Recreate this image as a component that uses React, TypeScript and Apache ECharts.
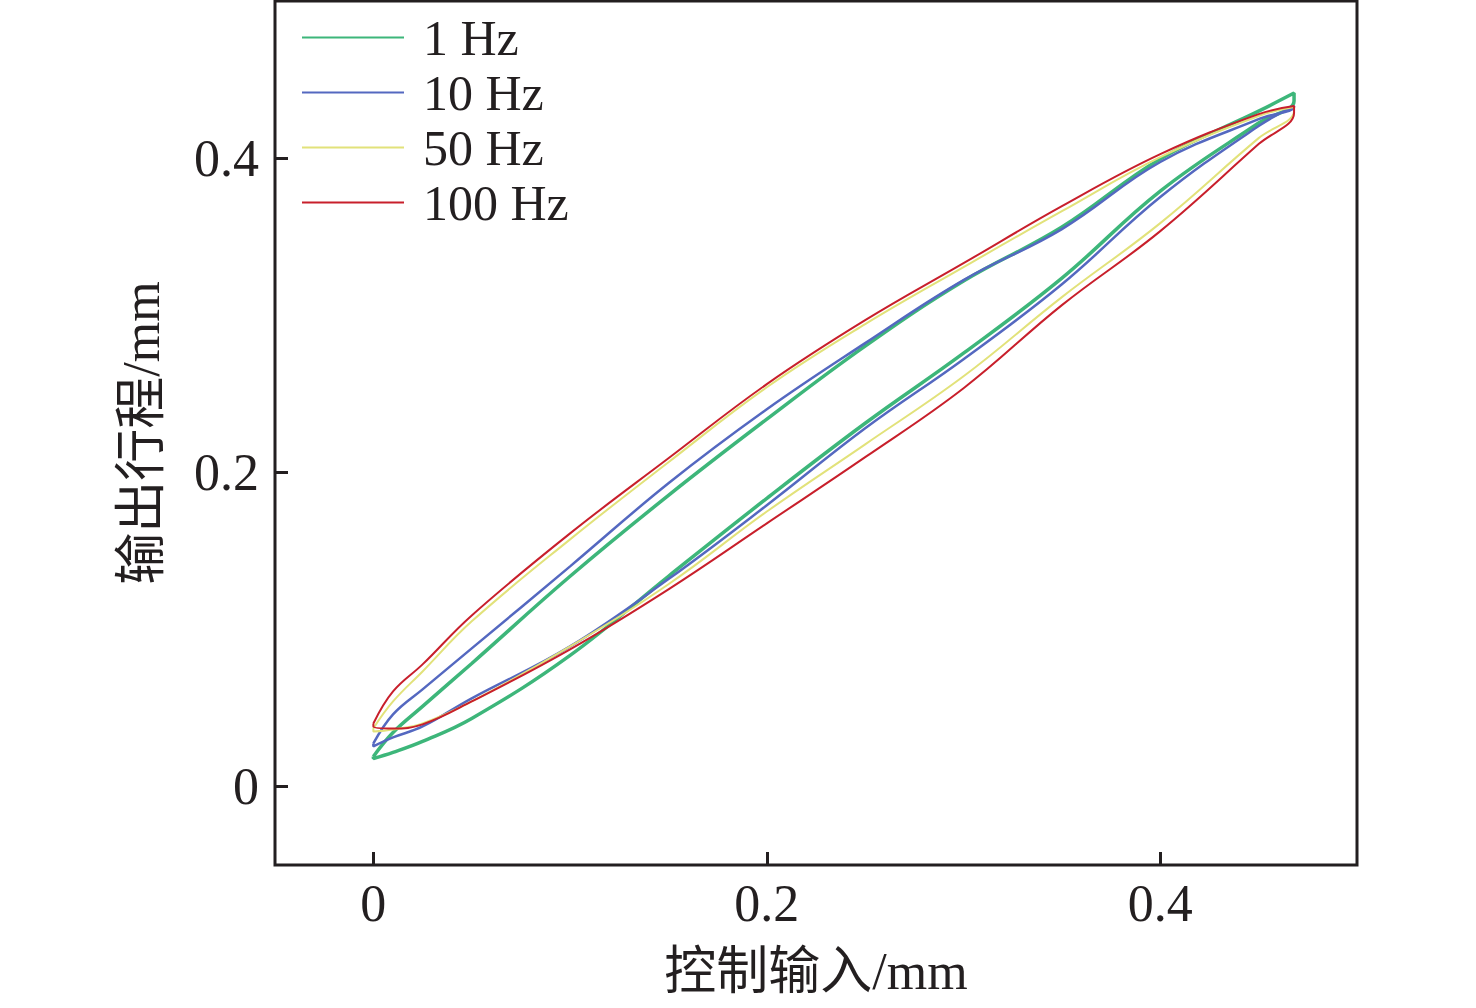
import { useEffect, useRef } from "react";
import * as echarts from "echarts";

// Control input (mm) at which each branch was read
const xGrid = [0, 0.01, 0.025, 0.05, 0.1, 0.15, 0.2, 0.25, 0.3, 0.35, 0.4, 0.45, 0.468];

const seriesNames = ["1 Hz", "10 Hz", "50 Hz", "100 Hz"];

// Output stroke (mm): upper branch and lower branch of each hysteresis loop
const hz1Upper = [0.0191, 0.0344, 0.051, 0.0783, 0.1338, 0.1853, 0.2338, 0.2803, 0.3217, 0.3561, 0.3994, 0.4299, 0.4414];
const hz1Lower = [0.0178, 0.0217, 0.0287, 0.0433, 0.0834, 0.1338, 0.1834, 0.2312, 0.2758, 0.3236, 0.379, 0.4223, 0.4363];

const hz10Upper = [0.0274, 0.0459, 0.0618, 0.0879, 0.1401, 0.193, 0.2401, 0.2822, 0.3223, 0.3548, 0.3975, 0.4248, 0.4325];
const hz10Lower = [0.0255, 0.0312, 0.0382, 0.0561, 0.0892, 0.132, 0.179, 0.228, 0.272, 0.3197, 0.3752, 0.4204, 0.4331];

const hz50Upper = [0.037, 0.0541, 0.0732, 0.1051, 0.1573, 0.2064, 0.2541, 0.2943, 0.3306, 0.3662, 0.4006, 0.4268, 0.4325];
const hz50Lower = [0.035, 0.0363, 0.0401, 0.0541, 0.0892, 0.1287, 0.175, 0.2178, 0.2611, 0.3115, 0.3586, 0.4127, 0.4299];

const hz100Upper = [0.0401, 0.0605, 0.0777, 0.1089, 0.1611, 0.2089, 0.2561, 0.2968, 0.3331, 0.3694, 0.4025, 0.428, 0.4331];
const hz100Lower = [0.0382, 0.0369, 0.0395, 0.0541, 0.0873, 0.1255, 0.1675, 0.2096, 0.2535, 0.3064, 0.3535, 0.4089, 0.4287];

const tickValues = [0, 0.2, 0.4];
const tickLabels = ["0", "0.2", "0.4"];

const colors = ["#3db67a", "#5468c0", "#e2e27a", "#c81f2b"];
const lineWidths = [3.5, 2.5, 2, 2];

function loop(upper: number[], lower: number[]) {
  const pts: number[][] = xGrid.map((x, i) => [x, upper[i]]);
  for (let i = xGrid.length - 1; i >= 0; i--) pts.push([xGrid[i], lower[i]]);
  pts.push([xGrid[0], upper[0]]);
  return pts;
}

const FONT = "'Liberation Serif', 'Times New Roman', 'Noto Sans CJK SC', serif";
const INK = "#231f20";

export default function App() {
  const ref = useRef<HTMLDivElement>(null);
  useEffect(() => {
    if (!ref.current) return;
    const chart = echarts.init(ref.current, undefined, { renderer: "svg" });
    const loops = [
      loop(hz1Upper, hz1Lower),
      loop(hz10Upper, hz10Lower),
      loop(hz50Upper, hz50Lower),
      loop(hz100Upper, hz100Lower),
    ];
    const fmt = (v: number) => {
      const i = tickValues.findIndex((t) => Math.abs(t - v) < 1e-9);
      return i >= 0 ? tickLabels[i] : "";
    };
    const axisCommon = {
      type: "value",
      min: -0.05,
      max: 0.5,
      splitLine: { show: false },
      axisLine: { show: false, onZero: false },
      axisTick: {
        show: true,
        inside: true,
        length: 13,
        customValues: tickValues,
        lineStyle: { width: 3, color: INK },
      },
      nameLocation: "middle",
      nameTextStyle: { fontFamily: FONT, fontSize: 52, color: INK },
    };
    chart.setOption({
      animation: false,
      backgroundColor: "#ffffff",
      textStyle: { fontFamily: FONT, color: INK },
      grid: {
        left: 275,
        right: 119,
        top: 1,
        bottom: 143,
        show: true,
        borderColor: INK,
        borderWidth: 3,
        backgroundColor: "transparent",
      },
      legend: {
        orient: "vertical",
        left: 297,
        top: 5,
        itemWidth: 102,
        itemHeight: 2,
        itemGap: 0,
        icon: "rect",
        data: seriesNames,
        textStyle: {
          fontFamily: FONT,
          fontSize: 50,
          lineHeight: 55,
          color: INK,
          padding: [0, 0, 0, 14],
        },
      },
      xAxis: {
        ...axisCommon,
        axisLabel: {
          customValues: tickValues,
          formatter: fmt,
          fontFamily: FONT,
          fontSize: 52,
          color: INK,
          margin: 12,
        },
        name: "控制输入/mm",
        nameGap: 80,
      },
      yAxis: {
        ...axisCommon,
        axisLabel: {
          customValues: tickValues,
          formatter: fmt,
          fontFamily: FONT,
          fontSize: 52,
          color: INK,
          margin: 16,
        },
        name: "输出行程/mm",
        nameGap: 108,
      },
      series: seriesNames.map((name, i) => ({
        name,
        type: "line",
        data: loops[i],
        showSymbol: false,
        symbol: "none",
        smooth: 0.4,
        color: colors[i],
        lineStyle: { color: colors[i], width: lineWidths[i] },
        z: 2 + i,
      })),
    });
    return () => chart.dispose();
  }, []);
  return (
    <div
      ref={ref}
      style={{ position: "fixed", left: 0, top: 0, width: 1476, height: 1008 }}
    />
  );
}
